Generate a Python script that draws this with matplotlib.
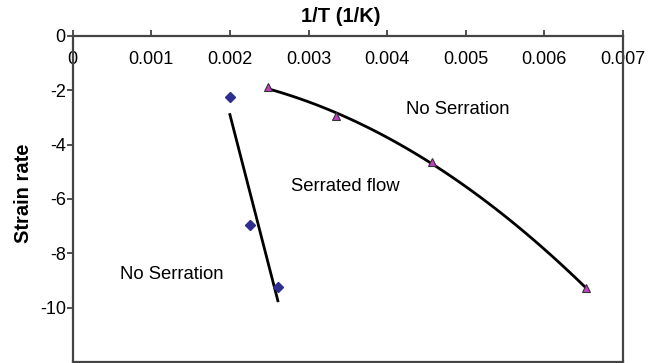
import numpy as np
import matplotlib.pyplot as plt

plt.rcParams['font.family'] = ['Liberation Sans', 'DejaVu Sans']
plt.rcParams['axes.unicode_minus'] = False

# lower boundary of serrated flow (diamonds)
inv_T_low = [0.0020, 0.00226, 0.00261]
rate_low = [-2.24, -6.96, -9.26]

# upper boundary of serrated flow (triangles)
inv_T_high = [0.00248, 0.00335, 0.00457, 0.00653]
rate_high = [-1.89, -2.94, -4.63, -9.29]

xticks = [0, 0.001, 0.002, 0.003, 0.004, 0.005, 0.006, 0.007]
xtick_labels = ['0', '0.001', '0.002', '0.003', '0.004', '0.005', '0.006', '0.007']
yticks = [0, -2, -4, -6, -8, -10]

fig = plt.figure(figsize=(6.55, 3.63), dpi=100)
ax = fig.add_axes([0.111, 0.003, 0.840, 0.898])

# linear trend through the diamonds
p1 = np.polyfit(inv_T_low, rate_low, 1)
xl = np.linspace(min(inv_T_low), max(inv_T_low), 50)
ax.plot(xl, np.polyval(p1, xl), color='black', lw=2, zorder=2)

# quadratic trend through the triangles
p2 = np.polyfit(inv_T_high, rate_high, 2)
xh = np.linspace(min(inv_T_high), max(inv_T_high), 100)
ax.plot(xh, np.polyval(p2, xh), color='black', lw=2, zorder=2)

ax.plot(inv_T_low, rate_low, 'D', ms=5, color='#2e2e8f', mec='#2e2e8f', ls='none', zorder=3)
ax.plot(inv_T_high, rate_high, '^', ms=6, color='#c040c0', mec='#333333', mew=0.8, ls='none', zorder=3)

ax.text(0.00424, -2.69, 'No Serration', fontsize=13.3, va='center')
ax.text(0.00278, -5.55, 'Serrated flow', fontsize=13.3, va='center')
ax.text(0.00060, -8.80, 'No Serration', fontsize=13.3, va='center')

ax.set_xlim(0, 0.007)
ax.set_ylim(-12, 0)
ax.set_xticks(xticks)
ax.set_xticklabels(xtick_labels)
ax.set_yticks(yticks)

ax.xaxis.tick_top()
ax.xaxis.set_label_position('top')
ax.tick_params(axis='x', direction='out', length=4, width=1.2, colors='#333333',
               labelcolor='black', labelsize=13, pad=-27)
ax.tick_params(axis='y', direction='out', length=4, width=1.2, colors='#333333',
               labelcolor='black', labelsize=13, pad=1)

ax.set_xlabel('1/T (1/K)', fontsize=14.5, fontweight='bold')
ax.set_ylabel('Strain rate', fontsize=14.5, fontweight='bold')
ax.xaxis.set_label_coords(0.487, 1.043)
ax.yaxis.set_label_coords(-0.072, 0.518)

for s in ax.spines.values():
    s.set_linewidth(1.6)
    s.set_color('#444444')

fig.savefig('out.png', dpi=100)
